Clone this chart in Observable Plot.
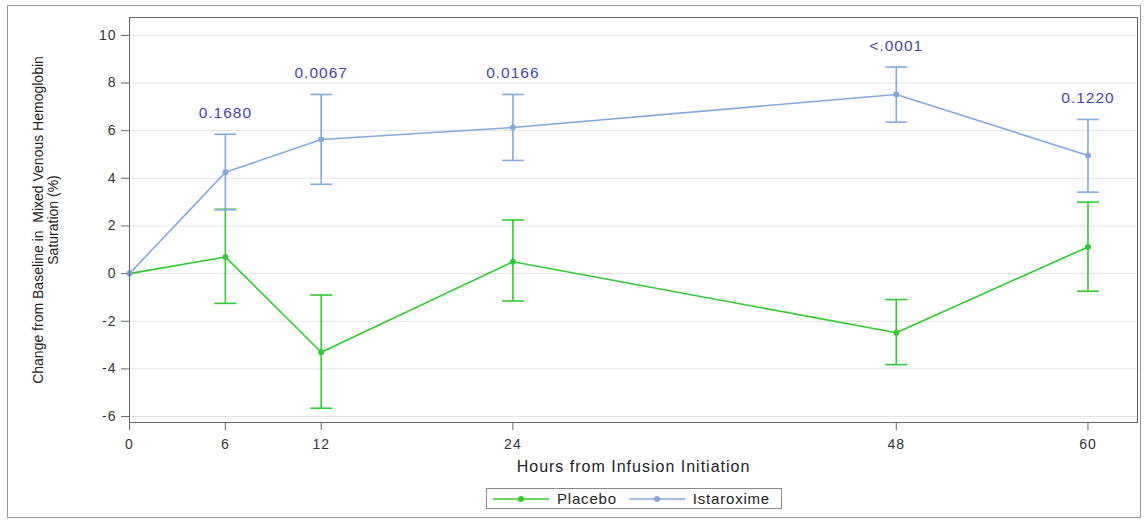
<!DOCTYPE html>
<html>
<head>
<meta charset="utf-8">
<script src="https://cdn.jsdelivr.net/npm/d3@7"></script>
<script src="https://cdn.jsdelivr.net/npm/@observablehq/plot@0.6"></script>
<style>
  body { margin: 0; background: #fff; font-family: "Liberation Sans", Arial, sans-serif; }
  #wrap { position: relative; width: 1146px; height: 520px; }
  #outer { position: absolute; left: 7px; top: 5px; width: 1134px; height: 513px; border: 1px solid #999; box-sizing: border-box; }
  #chart { position: absolute; left: 0; top: 0; }
  #chart svg text { letter-spacing: 1px; }
  #chart svg g[font-family*="Narrow"] text { letter-spacing: 0; }
  #legend { position: absolute; left: 486px; top: 488px; width: 296px; height: 21px; border: 1px solid #888; box-sizing: border-box;
            display: flex; align-items: center; font-size: 15px; letter-spacing: 0.8px; color: #222; }
  #legend .sw { margin-left: 6px; }
  #legend span { margin-left: 8px; margin-right: 6px; }
</style>
</head>
<body>
<div id="wrap">
  <div id="outer"></div>
  <div id="chart"></div>
  <div id="legend"></div>
</div>
<script>
// ---- data ----
const hours = [0, 6, 12, 24, 48, 60];
const placeboMean  = [0, 0.7, -3.3, 0.5, -2.48, 1.12];
const placeboLower = [0, -1.25, -5.65, -1.15, -3.82, -0.74];
const placeboUpper = [0, 2.7, -0.9, 2.25, -1.09, 3.0];
const istarMean  = [0, 4.25, 5.63, 6.13, 7.52, 4.96];
const istarLower = [0, 2.68, 3.75, 4.75, 6.36, 3.42];
const istarUpper = [0, 5.85, 7.52, 7.52, 8.67, 6.47];
const pValues = ["", "0.1680", "0.0067", "0.0166", "<.0001", "0.1220"];
const yTicks = [-6, -4, -2, 0, 2, 4, 6, 8, 10];
const xTicks = [0, 6, 12, 24, 48, 60];
const seriesNames = ["Placebo", "Istaroxime"];
const seriesColors = ["#2fcc2f", "#84a7e0"];

const rows = [];
hours.forEach((h, i) => {
  rows.push({series: "Placebo", x: h, y: placeboMean[i], lo: placeboLower[i], hi: placeboUpper[i]});
  rows.push({series: "Istaroxime", x: h, y: istarMean[i], lo: istarLower[i], hi: istarUpper[i]});
});
const withBars = rows.filter(d => d.x > 0);
const pRows = hours.map((h, i) => ({x: h, hi: istarUpper[i], p: pValues[i]})).filter(d => d.p);

const capSymbol = { draw(ctx, size) { ctx.moveTo(-11, 0); ctx.lineTo(11, 0); } };
const color = {domain: seriesNames, range: seriesColors};

const chart = Plot.plot({
  width: 1146,
  height: 482,
  marginLeft: 129,
  marginRight: 9,
  marginTop: 17,
  marginBottom: 60,
  style: {fontFamily: "Liberation Sans, Arial, sans-serif", fontSize: "14px", color: "#333", background: "transparent"},
  x: {domain: [0, 63.1]},
  y: {domain: [-6.25, 10.75]},
  color: color,
  marks: [
    Plot.gridY(yTicks, {stroke: "#e2e2e2", strokeOpacity: 1}),
    Plot.axisY(yTicks, {tickSize: 8, tickPadding: 5, label: null, stroke: "#666", tickFormat: d => String(d)}),
    Plot.axisX(xTicks, {tickSize: 8, tickPadding: 9, label: null, stroke: "#666", tickFormat: d => String(d)}),
    Plot.text(["Hours from Infusion Initiation"], {frameAnchor: "bottom", dy: 49, fontSize: 16, fill: "#222"}),
    Plot.text(["Change from Baseline in  Mixed Venous Hemoglobin\nSaturation (%)"],
      {frameAnchor: "left", dx: -84, rotate: -90, textAnchor: "middle", fontSize: 14, lineHeight: 1.05, fill: "#222",
       fontFamily: "Liberation Sans Narrow, Liberation Sans, Arial, sans-serif"}),
    Plot.ruleX(withBars, {x: "x", y1: "lo", y2: "hi", stroke: "series", strokeWidth: 1.6}),
    Plot.dot(withBars, {x: "x", y: "hi", stroke: "series", symbol: capSymbol, r: 1, strokeWidth: 1.6}),
    Plot.dot(withBars, {x: "x", y: "lo", stroke: "series", symbol: capSymbol, r: 1, strokeWidth: 1.6}),
    Plot.line(rows, {x: "x", y: "y", stroke: "series", strokeWidth: 1.6}),
    Plot.dot(rows, {x: "x", y: "y", fill: "series", r: 3}),
    Plot.text(pRows, {x: "x", y: "hi", text: "p", dy: -21, fontSize: 15.5, fill: "#4646a6"}),
    Plot.frame({stroke: "#666"})
  ]
});
document.getElementById("chart").appendChild(chart);

// legend
const legend = document.getElementById("legend");
seriesNames.forEach((name, i) => {
  const ns = "http://www.w3.org/2000/svg";
  const svg = document.createElementNS(ns, "svg");
  svg.setAttribute("width", 56); svg.setAttribute("height", 12);
  svg.setAttribute("class", "sw");
  const ln = document.createElementNS(ns, "line");
  ln.setAttribute("x1", 0); ln.setAttribute("x2", 56); ln.setAttribute("y1", 6); ln.setAttribute("y2", 6);
  ln.setAttribute("stroke", seriesColors[i]); ln.setAttribute("stroke-width", 1.6);
  const c = document.createElementNS(ns, "circle");
  c.setAttribute("cx", 28); c.setAttribute("cy", 6); c.setAttribute("r", 3); c.setAttribute("fill", seriesColors[i]);
  svg.appendChild(ln); svg.appendChild(c);
  legend.appendChild(svg);
  const s = document.createElement("span");
  s.textContent = name;
  legend.appendChild(s);
});
</script>
</body>
</html>
